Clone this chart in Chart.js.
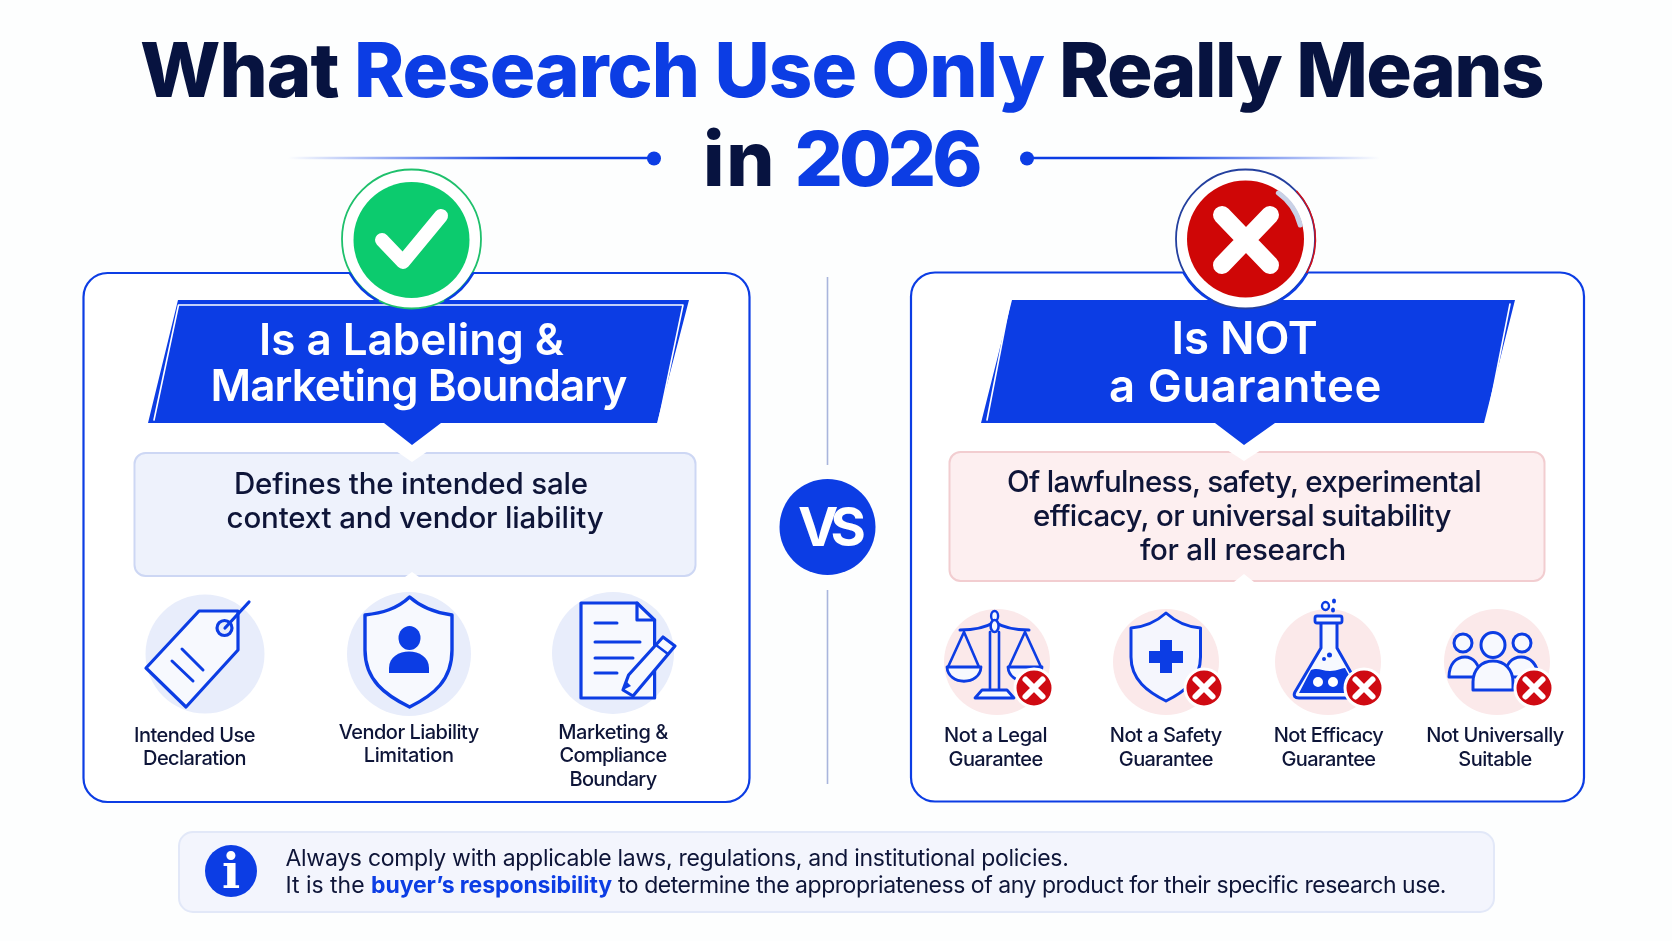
<!DOCTYPE html>
<html>
<head>
<meta charset="utf-8">
<title>What Research Use Only Really Means in 2026</title>
<script src="https://cdn.jsdelivr.net/npm/chart.js@4"></script>
<style>
html, body { margin: 0; padding: 0; background: #fdfefe; }
#stage { position: relative; width: 1672px; height: 941px; overflow: hidden; }
#diagram { position: absolute; left: 0; top: 0; }
.t { position: absolute; line-height: 0; white-space: nowrap; font-family: Inter, "Liberation Sans", sans-serif; }
</style>
</head>
<body>
<div id="stage"><canvas id="diagram" width="1672" height="941"></canvas></div>
<script>
// Text of the picture
const titleLine1 = ['What ', 'Research Use Only', ' Really Means'];
const titleLine2 = ['in ', '2026'];
const leftHeading = ['Is a Labeling &', 'Marketing Boundary'];
const rightHeading = ['Is NOT', 'a Guarantee'];
const leftSummary = ['Defines the intended sale', 'context and vendor liability'];
const rightSummary = ['Of lawfulness, safety, experimental', 'efficacy, or universal suitability', 'for all research'];
const leftItems = [['Intended Use', 'Declaration'], ['Vendor Liability', 'Limitation'], ['Marketing &', 'Compliance', 'Boundary']];
const rightItems = [['Not a Legal', 'Guarantee'], ['Not a Safety', 'Guarantee'], ['Not Efficacy', 'Guarantee'], ['Not Universally', 'Suitable']];
const footerLine1 = 'Always comply with applicable laws, regulations, and institutional policies.';
const footerLine2 = ['It is the ', 'buyer\u2019s responsibility', ' to determine the appropriateness of any product for their specific research use.'];

// Where the round marks sit, on the page scale
const leftDiscs = [{x: 205, y: 654}, {x: 409, y: 654}, {x: 613, y: 653}];
const rightDiscs = [{x: 997, y: 662}, {x: 1166, y: 662}, {x: 1328, y: 662}, {x: 1497, y: 662}];
const crossBadges = [{x: 1034, y: 688}, {x: 1204, y: 688}, {x: 1364, y: 688}, {x: 1534, y: 688}];

const BLUE = '#0c3de4';
const NAVY = '#071340';
const INK = '#0e1538';

const canvas = document.getElementById('diagram');
const ctx = canvas.getContext('2d');

function fade(x0, x1, from, to) {
    const g = ctx.createLinearGradient(x0, 0, x1, 0);
    g.addColorStop(0, from);
    g.addColorStop(1, to);
    return g;
}

function rounded(x, y, w, h, r) {
    const p = new Path2D();
    p.roundRect(x, y, w, h, r);
    return p;
}

function paint(c, d, fill, stroke, width) {
    const p = typeof d === 'string' ? new Path2D(d) : d;
    if (fill) { c.fillStyle = fill; c.fill(p); }
    if (stroke) {
        c.strokeStyle = stroke;
        c.lineWidth = width || 2;
        c.lineCap = 'round';
        c.lineJoin = 'round';
        c.stroke(p);
    }
}

// panels, ribbons and the boxes below them
function drawPanels(c) {
    c.fillStyle = '#fdfefe';
    c.fillRect(0, 0, 1672, 941);

    paint(c, rounded(83.5, 273, 666, 529, 24), '#ffffff', BLUE, 2.2);
    paint(c, rounded(911, 272.5, 673, 529, 24), '#ffffff', BLUE, 2.2);

    paint(c, rounded(134.5, 453, 561, 123, 11), '#eef2fc', '#cdd7f4', 2);
    paint(c, 'M396 451 L428 451 L412 462 Z', '#ffffff');
    paint(c, 'M405 577 L419 577 L412 572 Z', '#ffffff');
    paint(c, rounded(949.5, 452, 595, 129, 11), '#fdeff0', '#f2cdd0', 2);
    paint(c, 'M1227 450 L1261 450 L1244 461 Z', '#ffffff');
    paint(c, 'M1234 582 L1254 582 L1244 574 Z', '#ffffff');

    paint(c, 'M178 300 L689 300 L657 423 L441 423 L412 445 L384 423 L148 423 Z', BLUE);
    paint(c, 'M154 420 L178.5 305 L683 305 L659 420', null, '#ffffff', 1.6);
    paint(c, 'M1012 300 L1515 300 L1484 423 L1275 423 L1244 445 L1215 423 L981 423 Z', BLUE);
    paint(c, 'M987 420 L1009.5 304', null, '#ffffff', 1.6);
    paint(c, 'M1487.5 418 L1510 304', null, '#ffffff', 1.6);

    paint(c, rounded(179, 832, 1315, 80, 14), '#f3f5fd', '#e2e8f8', 2);
}

// line icons, they sit on the pale discs and under the red badges
function drawIcons(c) {
    // price tag
    paint(c, 'M199 611 L238 611 L238 650 L186 707 L146 668 Z', '#f7f9fe', BLUE, 3.2);
    paint(c, 'M232 628 A7.5 7.5 0 1 1 217 628 A7.5 7.5 0 1 1 232 628 Z', '#e8edfb', BLUE, 3.2);
    paint(c, 'M225 628 L249 602', null, BLUE, 3.2);
    paint(c, 'M182 649 L203 670 M172 661 L193 681', null, BLUE, 3);

    // vendor shield
    paint(c, 'M409.6 597 C397 609 382 613 365 615 L365 650 C365 680 385 695 409.6 707 C434 695 452 680 452 650 L452 615 C437 613 423 609 409.6 597 Z', '#f7f9fe', BLUE, 3.4);
    paint(c, 'M398.5 638 A11 12 0 1 1 420.5 638 A11 12 0 1 1 398.5 638 Z', BLUE);
    paint(c, 'M389 673 L389 668 C389 646 429 646 429 668 L429 673 Z', BLUE);

    // document and pencil
    paint(c, 'M581 603 L637 603 L654.6 620 L654.6 698 L581 698 Z', '#f7f9fe', BLUE, 3.2);
    paint(c, 'M637 603 L637 620 L654.6 620', null, BLUE, 3.2);
    paint(c, 'M595 623 L617 623 M595 642 L640 642 M595 658 L633 658 M595 673 L617 673', null, BLUE, 3);
    paint(c, 'M663 637 L675 646 L633 696 L623 690 L628.6 675 Z', '#f7f9fe', BLUE, 3.2);
    paint(c, 'M656 645 L668 654', null, BLUE, 2.6);
    paint(c, 'M623 690 L626 681 L631 686 Z', BLUE);

    // scales
    paint(c, 'M960 630 C975 630 985 628 994.6 622 C1004 628 1014 630 1029 630', null, BLUE, 3);
    paint(c, 'M990 632 L990 690 M999 632 L999 690', null, BLUE, 2.6);
    paint(c, 'M994.6 611 A3.5 5 0 1 1 994.6 621 A3.5 5 0 1 1 994.6 611 Z', '#f7f9fe', BLUE, 2.4);
    paint(c, 'M994.6 620 A4 6 0 1 1 994.6 632 A4 6 0 1 1 994.6 620 Z', '#f7f9fe', BLUE, 2.6);
    paint(c, 'M982 690 L1007 690 L1014 698 L975 698 Z', '#f7f9fe', BLUE, 2.8);
    paint(c, 'M964 632 L948 667 M964 632 L979 667 M1025 632 L1009 667 M1025 632 L1041 667', null, BLUE, 2.6);
    paint(c, 'M947 667 L981 667 C980 686 948 686 947 667 Z', '#f7f9fe', BLUE, 2.8);
    paint(c, 'M1008 667 L1042 667 C1041 686 1009 686 1008 667 Z', '#f7f9fe', BLUE, 2.8);

    // safety shield
    paint(c, 'M1166 613 C1156 622 1145 627 1131 628 L1131 657 C1131 680 1148 692 1166 701 C1184 692 1200.5 680 1200.5 657 L1200.5 628 C1187 627 1176 622 1166 613 Z', '#f5f6fd', BLUE, 3);
    paint(c, 'M1160 640 L1172 640 L1172 651 L1183 651 L1183 663 L1172 663 L1172 673 L1160 673 L1160 663 L1149 663 L1149 651 L1160 651 Z', BLUE);

    // flask
    paint(c, 'M1321 622 L1321 648 L1295 692 C1293 696 1295 698 1299 698 L1358 698 C1362 698 1364 696 1362 692 L1337 648 L1337 622', '#f7f9fe', BLUE, 3);
    paint(c, rounded(1315, 616, 27, 7, 2), '#f7f9fe', BLUE, 2.8);
    paint(c, 'M1311 670 C1318 667 1322 671 1330 671 C1338 671 1341 668 1345 668 L1359 693 L1299 693 Z', BLUE);
    paint(c, 'M1323 682 A5 5 0 1 1 1313 682 A5 5 0 1 1 1323 682 Z M1338 682 A5 5 0 1 1 1328 682 A5 5 0 1 1 1338 682 Z', '#ffffff');
    paint(c, 'M1329 606 A3.5 4 0 1 1 1322 606 A3.5 4 0 1 1 1329 606 Z', null, BLUE, 2.4);
    paint(c, 'M1336 601 A2 2.5 0 1 1 1332 601 A2 2.5 0 1 1 1336 601 Z M1335 610 A2 2.5 0 1 1 1331 610 A2 2.5 0 1 1 1335 610 Z M1332 655 A2.5 2.5 0 1 1 1327 655 A2.5 2.5 0 1 1 1332 655 Z M1326 659 A2 2 0 1 1 1322 659 A2 2 0 1 1 1326 659 Z', BLUE);

    // people
    paint(c, 'M1449 677 C1449 664 1456 657 1465 657 C1473 657 1480 664 1480 677 Z', '#f7f9fe', BLUE, 3);
    paint(c, 'M1505 677 C1505 664 1512 657 1521 657 C1530 657 1538 664 1538 677 Z', '#f7f9fe', BLUE, 3);
    paint(c, 'M1473 690 L1473 682 C1473 670 1481 661 1493 661 C1505 661 1513 670 1513 682 L1513 690 Z', '#f7f9fe', BLUE, 3);
    paint(c, 'M1472 643 A9 9 0 1 1 1454 643 A9 9 0 1 1 1472 643 Z', '#f7f9fe', BLUE, 3);
    paint(c, 'M1505 645 A12 12.5 0 1 1 1481 645 A12 12.5 0 1 1 1505 645 Z', '#f7f9fe', BLUE, 3);
    paint(c, 'M1531 643 A9 9 0 1 1 1513 643 A9 9 0 1 1 1531 643 Z', '#f7f9fe', BLUE, 3);
}

// glyphs and arcs that lie over the round marks
function drawGlyphs(c) {
    paint(c, 'M382 240 L403 262 L441 216', null, '#ffffff', 14);
    paint(c, 'M1222 215 L1270 265 M1270 215 L1222 265', null, '#ffffff', 18);
    crossBadges.forEach(b => {
        const s = 8.5;
        paint(c, `M${b.x - s} ${b.y - s} L${b.x + s} ${b.y + s} M${b.x + s} ${b.y - s} L${b.x - s} ${b.y + s}`, null, '#ffffff', 6);
    });

    c.lineCap = 'round';
    c.strokeStyle = BLUE;
    c.lineWidth = 2.5;
    [[411.5, 239], [1245.5, 239]].forEach(([x, y]) => {
        c.beginPath(); c.arc(x, y, 70.5, 0.51, 1.07); c.stroke();
        c.beginPath(); c.arc(x, y, 70.5, Math.PI - 1.07, Math.PI - 0.51); c.stroke();
    });
    // the soft grey rim and the red edge on the cross badge
    c.strokeStyle = '#c9d1e6';
    c.lineWidth = 5;
    c.beginPath(); c.arc(1245.5, 239, 56.5, -0.95, -0.25); c.stroke();
    c.strokeStyle = '#d4101a';
    c.lineWidth = 1.5;
    c.beginPath(); c.arc(1245.5, 239, 70, -0.75, 0.5); c.stroke();
}

const diagramLayers = {
    id: 'diagramLayers',
    beforeDatasetsDraw(chart) {
        drawPanels(chart.ctx);
    },
    beforeDatasetDraw(chart, args) {
        if (chart.data.datasets[args.index].label === 'cross badges') {
            drawIcons(chart.ctx);
        }
    },
    afterDatasetsDraw(chart) {
        drawGlyphs(chart.ctx);
    }
};

function lineSet(label, points, color, width, order) {
    return { label, type: 'line', data: points, borderColor: color, borderWidth: width, pointRadius: 0, order };
}

function dotSet(label, points, fill, radius, border, borderWidth, order) {
    return {
        label, data: points, showLine: false,
        pointBackgroundColor: fill, pointRadius: radius,
        pointBorderColor: border || fill, pointBorderWidth: borderWidth || 0,
        order
    };
}

// order: the highest number is drawn first
new Chart(ctx, {
    type: 'scatter',
    data: {
        datasets: [
            lineSet('rule left', [{x: 288, y: 158}, {x: 650, y: 158}], fade(288, 520, 'rgba(12,61,228,0)', BLUE), 2.4, 90),
            lineSet('rule right', [{x: 1030, y: 158}, {x: 1380, y: 158}], fade(1150, 1380, BLUE, 'rgba(12,61,228,0)'), 2.4, 90),
            lineSet('divider top', [{x: 827.5, y: 277}, {x: 827.5, y: 465}], '#a9b5dc', 1.6, 90),
            lineSet('divider bottom', [{x: 827.5, y: 590}, {x: 827.5, y: 784}], '#a9b5dc', 1.6, 90),
            dotSet('rule dots', [{x: 654, y: 158.5}, {x: 1027, y: 158.5}], BLUE, 7, null, 0, 80),
            dotSet('vs', [{x: 827.5, y: 527}], BLUE, 48, null, 0, 80),
            dotSet('left ring', [{x: 411.5, y: 239}], '#ffffff', 69.5, '#1fc06c', 1.8, 70),
            dotSet('right ring', [{x: 1245.5, y: 239}], '#ffffff', 69.5, '#24409f', 1.8, 70),
            dotSet('check', [{x: 411.5, y: 240}], '#0ccb6e', 58, null, 0, 60),
            dotSet('cross', [{x: 1245.5, y: 239}], '#cf0606', 58.5, null, 0, 60),
            dotSet('left discs', leftDiscs, '#e8edfb', [59.5, 62, 61], null, 0, 50),
            dotSet('right discs', rightDiscs, '#fbe9ea', 53, null, 0, 50),
            dotSet('cross badges', crossBadges, '#cf0a12', 19, '#ffffff', 3, 10),
            dotSet('info', [{x: 231, y: 871}], BLUE, 26, null, 0, 10)
        ]
    },
    options: {
        responsive: false,
        animation: false,
        events: [],
        layout: { padding: 0, autoPadding: false },
        plugins: { legend: { display: false }, tooltip: { enabled: false } },
        scales: {
            x: { type: 'linear', min: 0, max: 1672, display: false },
            y: { type: 'linear', min: 0, max: 941, reverse: true, display: false }
        }
    },
    plugins: [diagramLayers]
});

// real text on top of the canvas, placed by its baseline and tracked to a measured width
const stage = document.getElementById('stage');
function track(el, text, width) {
    const now = el.getBoundingClientRect().width;
    el.style.letterSpacing = ((width - now) / text.length).toFixed(3) + 'px';
}

function label(text, x, baseline, size, weight, color, width) {
    const el = document.createElement('div');
    el.className = 't';
    el.style.left = x + 'px';
    el.style.top = (baseline - size * 0.3635) + 'px';
    el.style.fontSize = size + 'px';
    el.style.fontWeight = weight;
    el.style.color = color;
    el.style.transform = 'translateX(-50%)';
    el.textContent = text;
    stage.appendChild(el);
    if (width) track(el, text, width);
    return el;
}

// a line that starts at x, each part has its own colour, weight and width
function richLine(parts, x, baseline, size, weight) {
    const el = document.createElement('div');
    el.className = 't';
    el.style.left = x + 'px';
    el.style.top = (baseline - size * 0.3635) + 'px';
    el.style.fontSize = size + 'px';
    stage.appendChild(el);
    parts.forEach(p => {
        const s = document.createElement('span');
        s.style.whiteSpace = 'pre';
        s.style.display = 'inline-block';
        s.style.color = p.color;
        s.style.fontWeight = p.weight || weight;
        s.textContent = p.text;
        el.appendChild(s);
        track(s, p.text, p.width);
    });
}

richLine([
    {text: titleLine1[0], color: NAVY, width: 214},
    {text: titleLine1[1], color: BLUE, width: 690},
    {text: titleLine1[2], color: NAVY, width: 499}
], 140, 97, 76, 800);
richLine([
    {text: titleLine2[0], color: NAVY, width: 91.5},
    {text: titleLine2[1], color: BLUE, width: 184}
], 703, 186, 76, 800);

label(leftHeading[0], 411.5, 355, 44, 600, '#ffffff', 305);
label(leftHeading[1], 418.5, 401, 44, 600, '#ffffff', 416);
label(rightHeading[0], 1244.6, 355, 45.5, 600, '#ffffff', 146);
label(rightHeading[1], 1245.5, 402.5, 45.5, 600, '#ffffff', 273);

const summarySize = 29.5;
label(leftSummary[0], 411, 493.7, summarySize, 500, INK, 354);
label(leftSummary[1], 415, 527.7, summarySize, 500, INK, 377);
label(rightSummary[0], 1244, 491.5, summarySize, 500, INK, 474);
label(rightSummary[1], 1242, 525.5, summarySize, 500, INK, 418);
label(rightSummary[2], 1243, 560, summarySize, 500, INK, 206);

const leftCentres = [194.5, 408.7, 613];
const leftBaselines = [742, 739, 739];
const leftWidths = [[121, 103], [140, 90], [109.5, 107, 87]];
leftItems.forEach((lines, i) => {
    lines.forEach((line, j) => label(line, leftCentres[i], leftBaselines[i] + j * 23.7, 20, 500, INK, leftWidths[i][j]));
});
const rightCentres = [995.6, 1165.8, 1328.5, 1495];
const rightWidths = [[103, 94], [112, 94], [109.5, 94], [137.5, 73.5]];
rightItems.forEach((lines, i) => {
    lines.forEach((line, j) => label(line, rightCentres[i], 742.5 + j * 23.7, 20, 500, INK, rightWidths[i][j]));
});

label('VS', 828, 547, 54, 700, '#ffffff', 60);

label('i', 231, 888, 48, 700, '#ffffff').style.fontFamily = '"DejaVu Serif", serif';

richLine([{text: footerLine1, color: INK, width: 783}], 285.5, 866.5, 23, 400);
richLine([
    {text: footerLine2[0], color: INK, width: 85.5},
    {text: footerLine2[1], color: BLUE, weight: 700, width: 241},
    {text: footerLine2[2], color: INK, width: 834}
], 285.5, 893, 23, 400);
</script>
</body>
</html>
